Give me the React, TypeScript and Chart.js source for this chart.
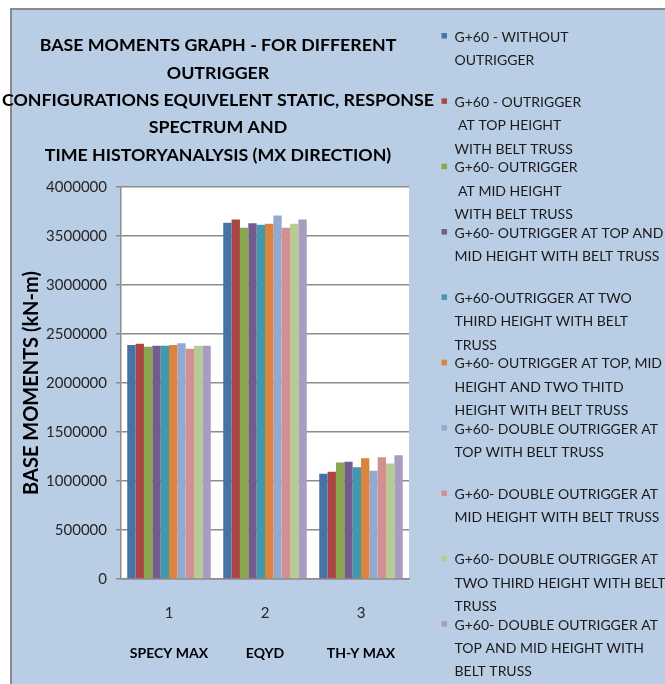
import React, { useEffect, useRef } from 'react';
import { Chart, registerables } from 'chart.js';

Chart.register(...registerables);

// ---------- data ----------
const categories = ['1', '2', '3'];
const caseNames = ['SPECY MAX', 'EQYD', 'TH-Y MAX'];

const titleLines = [
  'BASE MOMENTS GRAPH - FOR DIFFERENT',
  'OUTRIGGER',
  'CONFIGURATIONS EQUIVELENT STATIC, RESPONSE',
  'SPECTRUM AND',
  'TIME HISTORYANALYSIS (MX DIRECTION)',
];
const yAxisTitle = 'BASE MOMENTS (kN-m)';
const yTicks = [0, 500000, 1000000, 1500000, 2000000, 2500000, 3000000, 3500000, 4000000];

const withoutOutrigger = [2388000, 3634000, 1073000];
const outriggerTop = [2401000, 3669000, 1094000];
const outriggerMid = [2371000, 3583000, 1188000];
const outriggerTopMid = [2381000, 3631000, 1196000];
const outriggerTwoThird = [2381000, 3614000, 1141000];
const outriggerTopMidTwoThird = [2388000, 3624000, 1233000];
const doubleTop = [2405000, 3710000, 1104000];
const doubleMid = [2350000, 3583000, 1243000];
const doubleTwoThird = [2381000, 3624000, 1178000];
const doubleTopMid = [2381000, 3669000, 1264000];

const seriesValues = [
  withoutOutrigger,
  outriggerTop,
  outriggerMid,
  outriggerTopMid,
  outriggerTwoThird,
  outriggerTopMidTwoThird,
  doubleTop,
  doubleMid,
  doubleTwoThird,
  doubleTopMid,
];

const seriesLabels = [
  ['G+60 - WITHOUT', 'OUTRIGGER'],
  ['G+60 - OUTRIGGER', ' AT TOP HEIGHT', 'WITH BELT TRUSS'],
  ['G+60- OUTRIGGER', ' AT MID HEIGHT', 'WITH BELT TRUSS'],
  ['G+60- OUTRIGGER AT TOP AND', 'MID HEIGHT WITH BELT TRUSS'],
  ['G+60-OUTRIGGER AT TWO', 'THIRD HEIGHT WITH BELT', 'TRUSS'],
  ['G+60- OUTRIGGER AT TOP, MID', 'HEIGHT AND TWO THITD', 'HEIGHT WITH BELT TRUSS'],
  ['G+60- DOUBLE OUTRIGGER AT', 'TOP WITH BELT TRUSS'],
  ['G+60- DOUBLE OUTRIGGER AT', 'MID HEIGHT WITH BELT TRUSS'],
  ['G+60- DOUBLE OUTRIGGER AT', 'TWO THIRD HEIGHT WITH BELT', 'TRUSS'],
  ['G+60- DOUBLE OUTRIGGER AT', 'TOP AND MID HEIGHT WITH', 'BELT TRUSS'],
];

const seriesColors = [
  '#4672A8',
  '#AA4644',
  '#8AA64F',
  '#735A8F',
  '#4198AF',
  '#DB843D',
  '#95A9D0',
  '#D29190',
  '#B8CB95',
  '#A89CC0',
];

// ---------- styling ----------
const FONT = 'Lato, "Open Sans", sans-serif';
const PAGE_BG = '#B9CDE5';
const GRID = '#8C8C8C';

const backgroundPlugin = {
  id: 'pageBackground',
  beforeDraw(chart: any) {
    const { ctx, width, height, chartArea } = chart;
    ctx.save();
    ctx.fillStyle = '#ffffff';
    ctx.fillRect(0, 0, width, height);
    ctx.fillStyle = PAGE_BG;
    ctx.fillRect(10, 8, width - 10, height - 8);
    ctx.strokeStyle = '#8A8A8A';
    ctx.lineWidth = 2;
    ctx.beginPath();
    ctx.moveTo(11, height);
    ctx.lineTo(11, 9);
    ctx.lineTo(width, 9);
    ctx.stroke();
    ctx.fillStyle = '#ffffff';
    ctx.fillRect(chartArea.left, chartArea.top, chartArea.right - chartArea.left, chartArea.bottom - chartArea.top);
    ctx.restore();
  },
};

// Wrapped title drawn wider than the plot (as in the original, it overhangs the plot area)
const wideTitlePlugin = {
  id: 'wideTitle',
  afterDraw(chart: any) {
    const { ctx } = chart;
    ctx.save();
    ctx.font = `bold 17.8px ${FONT}`;
    ctx.fillStyle = '#000000';
    ctx.textAlign = 'center';
    ctx.textBaseline = 'middle';
    titleLines.forEach((line, k) => {
      ctx.fillText(line, 218, 45.5 + k * 27.4);
    });
    ctx.restore();
  },
};

const sideLegendPlugin = {
  id: 'sideLegend',
  afterDraw(chart: any) {
    const { ctx } = chart;
    const x0 = 441.5;
    const textX = 454.5;
    const firstBaseline = 41.5;
    const itemStep = 65.35;
    const lineStep = 23.4;
    ctx.save();
    ctx.font = `14px ${FONT}`;
    ctx.textBaseline = 'alphabetic';
    ctx.textAlign = 'left';
    chart.data.datasets.forEach((ds: any, i: number) => {
      const base = firstBaseline + i * itemStep;
      ctx.fillStyle = ds.backgroundColor;
      ctx.fillRect(x0, base - 8.5, 5.5, 5.5);
      ctx.fillStyle = '#1A1A1A';
      seriesLabels[i].forEach((line, j) => {
        ctx.fillText(line, textX, base + j * lineStep);
      });
    });
    ctx.restore();
  },
};

export default function App() {
  const canvasRef = useRef<HTMLCanvasElement | null>(null);

  useEffect(() => {
    document.body.style.margin = '0';
    const canvas = canvasRef.current;
    if (!canvas) return;
    Chart.defaults.font.family = FONT;

    const chart = new Chart(canvas, {
      type: 'bar',
      data: {
        labels: categories,
        datasets: seriesValues.map((vals, i) => ({
          label: seriesLabels[i].join(' '),
          data: vals,
          backgroundColor: seriesColors[i],
          borderWidth: 0,
          categoryPercentage: 0.87,
          barPercentage: 1,
        })),
      },
      options: {
        responsive: false,
        animation: false,
        layout: { padding: { left: 23, right: 256, top: 187, bottom: 0 } },
        plugins: {
          legend: { display: false },
          tooltip: { enabled: false },
          title: { display: false },
        },
        scales: {
          x: {
            type: 'category',
            position: 'bottom',
            offset: true,
            weight: 0,
            grid: { display: false },
            border: { display: true, color: GRID, width: 1.5 },
            ticks: { color: '#262626', font: { family: FONT, size: 15 }, padding: 17, maxRotation: 0 },
            afterFit(scale: any) {
              scale.height = 52;
            },
          },
          x2: {
            type: 'category',
            position: 'bottom',
            labels: caseNames,
            offset: true,
            weight: 1,
            grid: { display: false },
            border: { display: false },
            ticks: { color: '#000000', font: { family: FONT, size: 14, weight: 'bold' }, padding: 5.6, maxRotation: 0 },
            afterFit(scale: any) {
              scale.height = 53;
            },
          },
          y: {
            min: 0,
            max: 4000000,
            afterBuildTicks(scale: any) {
              scale.ticks = yTicks.map((v) => ({ value: v }));
            },
            grid: { color: GRID, lineWidth: 1.5, tickLength: 5, drawTicks: true },
            border: { display: true, color: GRID, width: 1.5 },
            ticks: {
              color: '#262626',
              font: { family: FONT, size: 15 },
              padding: 9,
              callback: (v: any) => String(v),
            },
            title: {
              display: true,
              text: yAxisTitle,
              color: '#000000',
              font: { family: FONT, size: 20, weight: 'bold', lineHeight: 1 },
              padding: { top: -1.5, bottom: 0 },
            },
            afterFit(scale: any) {
              scale.width = 98;
            },
          },
        },
      },
      plugins: [backgroundPlugin, wideTitlePlugin, sideLegendPlugin],
    });

    return () => chart.destroy();
  }, []);

  return (
    <div style={{ position: 'fixed', left: 0, top: 0, width: 665, height: 684 }}>
      <canvas ref={canvasRef} width={665} height={684} style={{ display: 'block', width: 665, height: 684 }} />
    </div>
  );
}
